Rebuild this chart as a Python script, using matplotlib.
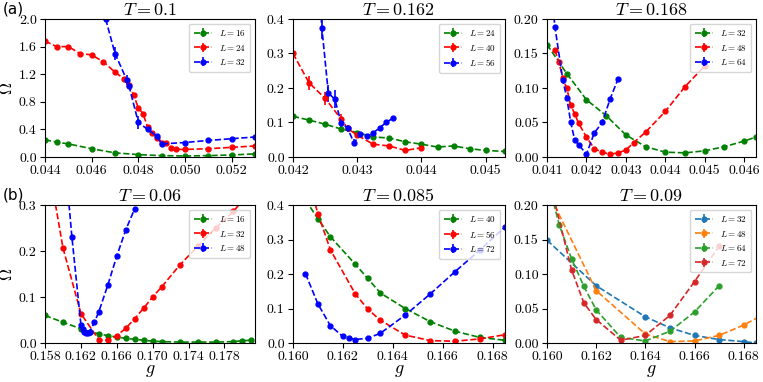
import numpy as np
import matplotlib
matplotlib.use("Agg")
import matplotlib.pyplot as plt
from matplotlib.ticker import FormatStrFormatter, MultipleLocator

plt.rcParams['font.family'] = 'serif'
plt.rcParams['font.serif'] = ['cmr10', 'DejaVu Serif']
plt.rcParams['mathtext.fontset'] = 'cm'
plt.rcParams['axes.formatter.use_mathtext'] = True
plt.rcParams['axes.unicode_minus'] = False

# ---- (a) T = 0.1 ----
a_x16 = [0.044, 0.0445, 0.045, 0.046, 0.047, 0.048, 0.049, 0.050, 0.051, 0.052, 0.053]
a_y16 = [0.25, 0.215, 0.19, 0.12, 0.06, 0.035, 0.02, 0.015, 0.02, 0.03, 0.045]
a_x24 = [0.044, 0.0445, 0.045, 0.0455, 0.046, 0.0465, 0.047, 0.0474, 0.0476, 0.0478, 0.048,
         0.0482, 0.0484, 0.0486, 0.0488, 0.049, 0.0492, 0.0494, 0.0496, 0.050, 0.051, 0.052, 0.053]
a_y24 = [1.68, 1.60, 1.60, 1.50, 1.48, 1.38, 1.23, 1.13, 1.04, 0.90, 0.71,
         0.63, 0.43, 0.35, 0.28, 0.21, 0.21, 0.13, 0.11, 0.11, 0.12, 0.14, 0.16]
a_x32 = [0.0466, 0.047, 0.0475, 0.0476, 0.048, 0.0484, 0.0488, 0.049, 0.050, 0.051, 0.052, 0.053]
a_y32 = [2.0, 1.50, 1.12, 1.03, 0.50, 0.40, 0.30, 0.19, 0.21, 0.24, 0.265, 0.29]
a_e32 = [0.0, 0.10, 0.07, 0.02, 0.10, 0.02, 0.01, 0.01, 0.01, 0.01, 0.01, 0.01]

# ---- T = 0.162 ----
c_x24 = [0.042, 0.04225, 0.0425, 0.04275, 0.043, 0.04325, 0.0435, 0.04375, 0.044, 0.04425,
         0.0445, 0.04475, 0.045, 0.0453]
c_y24 = [0.118, 0.107, 0.095, 0.081, 0.071, 0.058, 0.055, 0.044, 0.037, 0.029,
         0.032, 0.024, 0.019, 0.016]
c_x40 = [0.042, 0.04225, 0.0425, 0.04275, 0.04285, 0.043, 0.04325, 0.0435, 0.04375, 0.044]
c_y40 = [0.30, 0.215, 0.17, 0.11, 0.083, 0.063, 0.037, 0.032, 0.019, 0.027]
c_e40 = [0.01, 0.02, 0.018, 0.015, 0.008, 0.005, 0.003, 0.003, 0.003, 0.004]
c_x56 = [0.0424, 0.04245, 0.04255, 0.04265, 0.04275, 0.04285, 0.04295, 0.04305, 0.04315,
         0.04325, 0.04335, 0.04345, 0.04355]
c_y56 = [0.52, 0.373, 0.185, 0.168, 0.099, 0.083, 0.041, 0.066, 0.060, 0.070, 0.085, 0.10, 0.112]
c_e56 = [0.03, 0.03, 0.025, 0.025, 0.015, 0.01, 0.01, 0.006, 0.004, 0.004, 0.004, 0.004, 0.004]

# ---- T = 0.168 ----
d_x32 = [0.041, 0.0415, 0.042, 0.0425, 0.043, 0.0435, 0.044, 0.0445, 0.045, 0.0455, 0.046, 0.0463]
d_y32 = [0.163, 0.121, 0.083, 0.060, 0.032, 0.015, 0.007, 0.006, 0.009, 0.015, 0.023, 0.029]
d_x48 = [0.0412, 0.0413, 0.0414, 0.0415, 0.0416, 0.0417, 0.0418, 0.042, 0.0422, 0.0424, 0.0426,
         0.0428, 0.043, 0.0432, 0.0435, 0.044, 0.0445, 0.045]
d_y48 = [0.155, 0.138, 0.114, 0.100, 0.075, 0.063, 0.049, 0.029, 0.012, 0.007, 0.004,
         0.006, 0.010, 0.021, 0.036, 0.066, 0.102, 0.132]
d_x64 = [0.0411, 0.0412, 0.0414, 0.0415, 0.0416, 0.0417, 0.0418, 0.042, 0.0422, 0.0424, 0.0426, 0.0428]
d_y64 = [0.25, 0.189, 0.112, 0.086, 0.051, 0.025, 0.018, 0.004, 0.035, 0.050, 0.084, 0.113]

# ---- (b) T = 0.06 ----
e_x16 = [0.158, 0.160, 0.162, 0.163, 0.164, 0.165, 0.166, 0.167, 0.168, 0.169, 0.170, 0.171,
         0.173, 0.175, 0.177, 0.179, 0.180, 0.181]
e_y16 = [0.060, 0.045, 0.031, 0.025, 0.020, 0.016, 0.013, 0.010, 0.008, 0.006, 0.004, 0.003,
         0.002, 0.002, 0.002, 0.003, 0.005, 0.006]
e_x32 = [0.159, 0.160, 0.162, 0.164, 0.165, 0.166, 0.167, 0.168, 0.169, 0.170, 0.171, 0.173,
         0.175, 0.177, 0.179, 0.180]
e_y32 = [0.32, 0.207, 0.064, 0.007, 0.006, 0.016, 0.032, 0.053, 0.076, 0.100, 0.122, 0.169,
         0.210, 0.250, 0.286, 0.31]
e_x48 = [0.1605, 0.161, 0.162, 0.1622, 0.1624, 0.1626, 0.1628, 0.163, 0.1635, 0.164, 0.165,
         0.166, 0.167, 0.168]
e_y48 = [0.34, 0.23, 0.040, 0.030, 0.024, 0.022, 0.022, 0.025, 0.045, 0.068, 0.126,
         0.189, 0.246, 0.292]
e_xticks = [0.158, 0.162, 0.166, 0.170, 0.174, 0.178]

# ---- T = 0.085 ----
f_x40 = [0.1605, 0.161, 0.1615, 0.1625, 0.163, 0.1635, 0.1645, 0.1655, 0.1665, 0.1675, 0.1685]
f_y40 = [0.415, 0.360, 0.308, 0.228, 0.187, 0.145, 0.100, 0.062, 0.034, 0.016, 0.008]
f_x56 = [0.1605, 0.161, 0.1615, 0.1625, 0.163, 0.1635, 0.1645, 0.1655, 0.1665, 0.1675, 0.1685]
f_y56 = [0.50, 0.375, 0.270, 0.142, 0.098, 0.066, 0.023, 0.007, 0.005, 0.012, 0.024]
f_x72 = [0.1605, 0.161, 0.1615, 0.162, 0.16225, 0.1625, 0.163, 0.1635, 0.1645, 0.1655,
         0.1665, 0.1675, 0.1685]
f_y72 = [0.201, 0.113, 0.050, 0.019, 0.014, 0.010, 0.014, 0.028, 0.081, 0.142,
         0.207, 0.270, 0.336]

# ---- T = 0.09 ----
h_x32 = [0.160, 0.162, 0.164, 0.165, 0.166, 0.167, 0.168, 0.1685]
h_y32 = [0.149, 0.083, 0.038, 0.022, 0.011, 0.005, 0.002, 0.0]
h_x48 = [0.160, 0.162, 0.164, 0.165, 0.166, 0.167, 0.168, 0.169]
h_y48 = [0.222, 0.076, 0.013, 0.002, 0.003, 0.011, 0.026, 0.045]
h_x64 = [0.160, 0.1605, 0.161, 0.1615, 0.162, 0.163, 0.164, 0.165, 0.166, 0.167]
h_y64 = [0.24, 0.171, 0.122, 0.082, 0.048, 0.008, 0.003, 0.017, 0.045, 0.083]
h_x72 = [0.160, 0.161, 0.1615, 0.162, 0.163, 0.164, 0.165, 0.166, 0.167]
h_y72 = [0.25, 0.106, 0.058, 0.034, 0.004, 0.011, 0.040, 0.089, 0.140]


def draw(ax, series, title, xlim, ylim, xstep, ystep, xfmt, yfmt):
    for x, y, err, lab, col in series:
        if err is None:
            err = np.full(len(x), 0.003 * ylim[1])
        ax.errorbar(x, y, yerr=err, fmt='o--', color=col, ms=3.5, lw=1.2,
                    elinewidth=1.2, label='$L = %d$' % lab)
    ax.set_xlim(*xlim)
    ax.set_ylim(*ylim)
    if np.ndim(xstep):
        ax.set_xticks(xstep)
    else:
        ax.xaxis.set_major_locator(MultipleLocator(xstep))
    ax.yaxis.set_major_locator(MultipleLocator(ystep))
    ax.xaxis.set_major_formatter(FormatStrFormatter(xfmt))
    ax.yaxis.set_major_formatter(FormatStrFormatter(yfmt))
    ax.tick_params(labelsize=10, pad=2.5)
    ax.set_title('$T = %s$' % title, fontsize=13, pad=3)
    ax.legend(loc='upper right', fontsize=6.5, handlelength=2.0, borderpad=0.5,
              labelspacing=0.5)


W, H = 763.0, 382.0
cols = [(45, 255), (293, 505), (547, 756)]
rows = [(19, 157), (205, 343)]

fig = plt.figure(figsize=(7.63, 3.82), dpi=100)
axs = []
for r in rows:
    line = []
    for c in cols:
        line.append(fig.add_axes([c[0] / W, 1 - r[1] / H, (c[1] - c[0]) / W, (r[1] - r[0]) / H]))
    axs.append(line)

draw(axs[0][0], [(a_x16, a_y16, None, 16, 'g'), (a_x24, a_y24, None, 24, 'r'),
                 (a_x32, a_y32, a_e32, 32, 'b')],
     '0.1', (0.044, 0.053), (0, 2.0), 0.002, 0.4, '%.3f', '%.1f')
draw(axs[0][1], [(c_x24, c_y24, None, 24, 'g'), (c_x40, c_y40, c_e40, 40, 'r'),
                 (c_x56, c_y56, c_e56, 56, 'b')],
     '0.162', (0.042, 0.0453), (0, 0.4), 0.001, 0.1, '%.3f', '%.1f')
draw(axs[0][2], [(d_x32, d_y32, None, 32, 'g'), (d_x48, d_y48, None, 48, 'r'),
                 (d_x64, d_y64, None, 64, 'b')],
     '0.168', (0.041, 0.0463), (0, 0.2), 0.001, 0.05, '%.3f', '%.2f')
draw(axs[1][0], [(e_x16, e_y16, None, 16, 'g'), (e_x32, e_y32, None, 32, 'r'),
                 (e_x48, e_y48, None, 48, 'b')],
     '0.06', (0.158, 0.1814), (0, 0.3), e_xticks, 0.1, '%.3f', '%.1f')
draw(axs[1][1], [(f_x40, f_y40, None, 40, 'g'), (f_x56, f_y56, None, 56, 'r'),
                 (f_x72, f_y72, None, 72, 'b')],
     '0.085', (0.160, 0.1685), (0, 0.4), 0.002, 0.1, '%.3f', '%.1f')
draw(axs[1][2], [(h_x32, h_y32, None, 32, 'C0'), (h_x48, h_y48, None, 48, 'C1'),
                 (h_x64, h_y64, None, 64, 'C2'), (h_x72, h_y72, None, 72, 'C3')],
     '0.09', (0.160, 0.1685), (0, 0.2), 0.002, 0.05, '%.3f', '%.2f')

for r in range(2):
    axs[r][0].set_ylabel(r'$\Omega$', fontsize=12)
    axs[r][0].yaxis.set_label_coords(-0.145, 0.5)
for c in range(3):
    axs[1][c].set_xlabel('$g$', fontsize=13)
    axs[1][c].xaxis.set_label_coords(0.5, -0.145)

fig.text(0.003, 0.995, '(a)', family='DejaVu Sans', fontsize=11, va='top', ha='left')
fig.text(0.003, 0.508, '(b)', family='DejaVu Sans', fontsize=11, va='top', ha='left')

fig.savefig('out.png', dpi=100)
